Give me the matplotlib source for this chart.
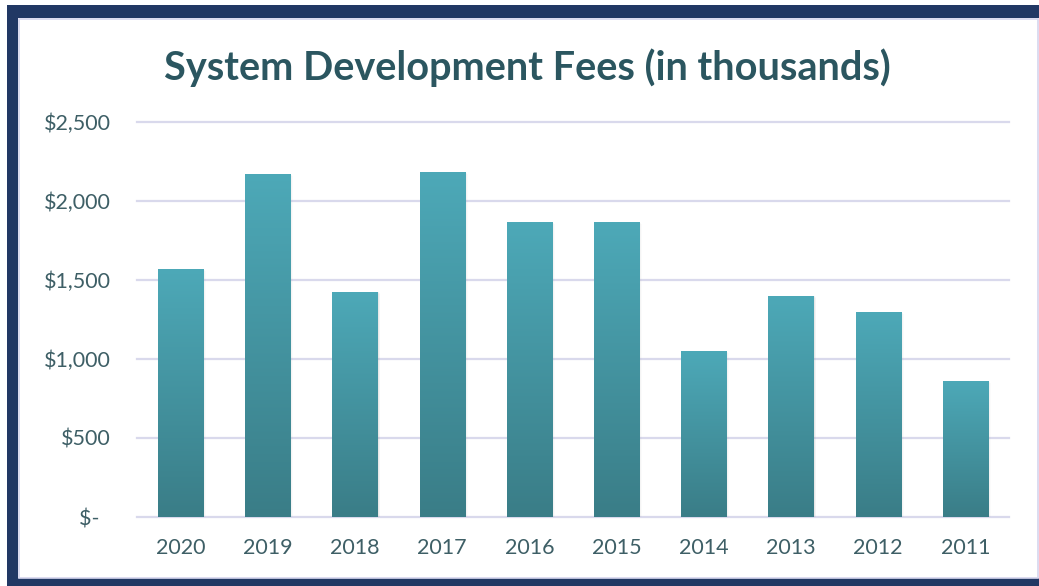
import matplotlib
matplotlib.use("Agg")
import matplotlib.pyplot as plt
import numpy as np
from matplotlib.patches import Rectangle
from matplotlib.colors import LinearSegmentedColormap

years = ["2020", "2019", "2018", "2017", "2016", "2015", "2014", "2013", "2012", "2011"]
fees = [1570, 2172, 1425, 2185, 1866, 1866, 1050, 1400, 1298, 862]
yticks = [0, 500, 1000, 1500, 2000, 2500]
ytick_labels = ["$-  ", "$500", "$1,000", "$1,500", "$2,000", "$2,500"]
title = "System Development Fees (in thousands)"

fig = plt.figure(figsize=(10.39, 5.86), dpi=100)
W, H = 1039, 586

def fx(px):
    return px / W

def fy(py):
    return 1 - py / H

def frect(x0, y0, x1, y1, **kw):
    fig.patches.append(Rectangle((fx(x0), fy(y1)), fx(x1) - fx(x0), fy(y0) - fy(y1),
                                 transform=fig.transFigure, **kw))

FONT = ["Lato", "DejaVu Sans"]

# navy frame: top, left, bottom strips
navy = "#213864"
frect(7, 5, 1039, 18, facecolor=navy, edgecolor="none", zorder=0)
frect(7, 5, 18, 586, facecolor=navy, edgecolor="none", zorder=0)
frect(7, 578, 1039, 586, facecolor=navy, edgecolor="none", zorder=0)
# inner thin lavender edge
frect(18.5, 18.5, 1037.5, 577.5, facecolor="none", edgecolor="#D6D6EE", linewidth=1.2, zorder=1)

ax = fig.add_axes([fx(137), fy(517), fx(1009) - fx(137), fy(122) - fy(517)])
ax.set_facecolor("none")
ax.set_zorder(2)

x = np.arange(len(years))
width = 0.52
bars = ax.bar(x, fees, width=width, color="none", edgecolor="none", zorder=3)

cmap = LinearSegmentedColormap.from_list("g", ["#3A7D87", "#4DA9B8"])
grad = np.linspace(0, 1, 256).reshape(-1, 1)
for b in bars:
    x0, w, h = b.get_x(), b.get_width(), b.get_height()
    # soft shadow
    for k, a in enumerate([0.10, 0.06, 0.03]):
        dx = 0.012 * (k + 1)
        ax.add_patch(Rectangle((x0 + dx * 0.3, -8 * (k + 1)), w + dx * 0.6, h + 4 * (k + 1),
                               facecolor="#888888", alpha=a, edgecolor="none", zorder=2.5))
    im = ax.imshow(grad, extent=[x0, x0 + w, 0, h], origin="lower", cmap=cmap,
                   aspect="auto", zorder=3)
    im.set_clip_path(b)

ax.set_xlim(-0.5, len(years) - 0.5)
ax.set_ylim(0, 2500)
ax.set_yticks(yticks)
ax.set_yticklabels(ytick_labels)
ax.set_xticks(x)
ax.set_xticklabels(years)

for yv in yticks:
    ax.axhline(yv, color="#D9D9EC", linewidth=1.6, zorder=1, clip_on=False)

for s in ax.spines.values():
    s.set_visible(False)

label_color = "#3E5F66"
ax.tick_params(axis="both", length=0, labelsize=15.5, labelcolor=label_color)
ax.tick_params(axis="y", pad=19)
ax.tick_params(axis="x", pad=15)
for t in ax.get_xticklabels() + ax.get_yticklabels():
    t.set_family(FONT)

fig.text(fx(527), fy(68), title, ha="center", va="center", fontsize=28.5, fontweight="bold",
         color="#2B5660", family=FONT)

fig.savefig("out.png", dpi=100)
